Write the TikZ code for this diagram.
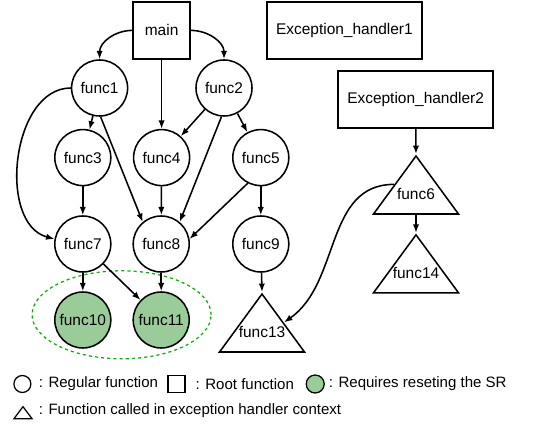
\documentclass[tikz,border=0pt]{standalone}
\usepackage{fontspec}
\setmainfont{Liberation Sans}
\usetikzlibrary{shapes.geometric,arrows.meta}
\definecolor{srgreen}{RGB}{153,204,153}
\definecolor{ringgreen}{RGB}{20,170,20}

\begin{document}
\begin{tikzpicture}[>={Latex[length=6pt,width=4.5pt]},line width=1.1pt,font=\fontsize{11}{13}\selectfont,
  func/.style={draw,circle,minimum size=1.4cm,inner sep=0pt},
  srfunc/.style={func,fill=srgreen},
  root/.style={draw,minimum width=1.425cm,minimum height=1.425cm},
  handler/.style={draw,minimum width=3.875cm,minimum height=1.425cm},
  exc/.style={draw,isosceles triangle,shape border rotate=90,isosceles triangle stretches,
    minimum width=2.125cm,minimum height=1.45cm,inner sep=0pt,anchor=apex,
    label={[anchor=center,yshift=-1cm]90:#1}},
  keytext/.style={anchor=west,inner sep=0pt,font=\fontsize{10.7}{13}\selectfont}]
\useasboundingbox (0,0) rectangle (13.4,10.65);

% roots
\node[root] (main) at (4.04,9.89) {main};
\node[handler] (handler1) at (8.61,9.89) {Exception\_handler1};
\node[handler] (handler2) at (10.39,8.16) {Exception\_handler2};

% functions
\node[func] (func1) at (2.49,8.45) {func1};
\node[func] (func2) at (5.6,8.45) {func2};
\node[func] (func3) at (2.07,6.71) {func3};
\node[func] (func4) at (4.04,6.71) {func4};
\node[func] (func5) at (6.52,6.71) {func5};
\node[func] (func7) at (2.07,4.55) {func7};
\node[func] (func8) at (4.03,4.55) {func8};
\node[func] (func9) at (6.52,4.55) {func9};
\node[srfunc] (func10) at (2.07,2.65) {func10};
\node[srfunc] (func11) at (4.03,2.65) {func11};
\node[draw,ringgreen,ellipse,line width=0.9pt,dash pattern=on 2.2pt off 2.2pt,minimum width=4.475cm,minimum height=2.2cm] (srgroup) at (3.04,2.78) {};

% exception handler context
\node[exc=func13] (func13) at (6.55,3.35) {};
\node[exc=func6] (func6) at (10.4,6.8) {};
\node[exc=func14] (func14) at (10.4,4.83) {};

\draw[->] (main.west) to[out=180,in=90] (func1.north);
\draw[->] (main.east) to[out=0,in=90] (func2.north);
\draw[->] (main) -- (func4);
\draw[->] (func1) -- (func3);
\draw[->] (func1.west) to[out=180,in=165] (func7.170);
\draw[->] (func1.272) -- (func8.130);
\draw[->] (func2) -- (func4);
\draw[->] (func2) -- (func5);
\draw[->] (func2.265) -- (func8.50);
\draw[->] (func3) -- (func7);
\draw[->] (func4) -- (func8);
\draw[->] (func5.243) -- (func8.10);
\draw[->] (func5) -- (func9);
\draw[->] (func7) -- (func10);
\draw[->] (func7) -- (func11);
\draw[->] (func8) -- (func11);
\draw[->] (func9) -- (func13.apex);
\draw[->] (handler2) -- (func6.apex);
\draw[->] (func6) -- (func14.apex);
\draw[->] (func6.left side) to[out=180,in=35] (func13.right side);

% legend
\node[draw,circle,line width=0.9pt,minimum size=0.425cm,inner sep=0pt] (keyfunc) at (0.56,1.05) {};
\node[keytext] (keyfunctext) at (0.95,1.05) {: Regular function};
\node[draw,line width=0.9pt,minimum size=0.425cm,inner sep=0pt] (keyroot) at (4.41,1.05) {};
\node[keytext] (keyroottext) at (4.87,1.05) {: Root function};
\node[draw,circle,line width=0.9pt,fill=srgreen,minimum size=0.45cm,inner sep=0pt] (keysr) at (7.88,1.05) {};
\node[keytext] (keysrtext) at (8.2,1.05) {: Requires reseting the SR};
\node[draw,isosceles triangle,shape border rotate=90,isosceles triangle stretches,line width=0.9pt,
  minimum width=0.45cm,minimum height=0.3cm,inner sep=0pt,anchor=apex] (keyexc) at (0.575,0.525) {};
\node[keytext] (keyexctext) at (0.95,0.375) {: Function called in exception handler context};
\end{tikzpicture}
\end{document}
